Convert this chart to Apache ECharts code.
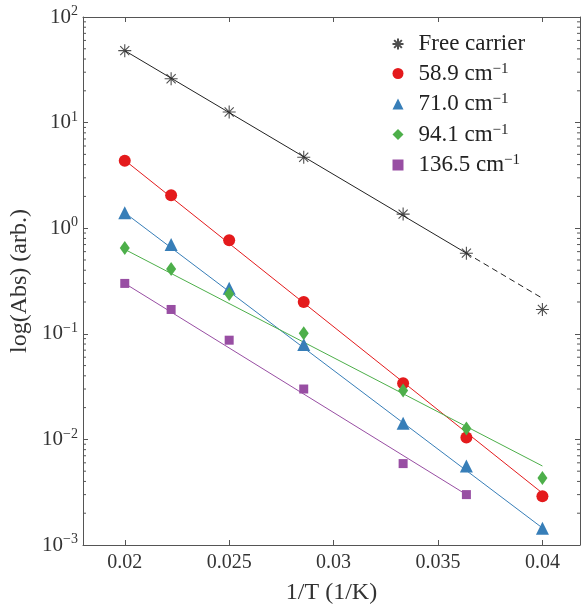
<!DOCTYPE html>
<html>
<head>
<meta charset="utf-8">
<script src="https://cdn.jsdelivr.net/npm/echarts@6/dist/echarts.min.js"></script>
<style>
    html, body { margin: 0; padding: 0; background: #fff; }
    #main { width: 583px; height: 605px; }
</style>
</head>
<body>
<div id="main"></div>
<script>
    // 1/T 的取值
    const invT = [0.02, 0.02222, 0.025, 0.02857, 0.03333, 0.03636, 0.04];

    // 各系列测量点
    const freeCarrier = [48, 26, 12.6, 4.7, 1.36, 0.58, 0.17];
    const mode589 = [4.35, 2.05, 0.77, 0.20, 0.034, 0.0104, 0.0029];
    const mode710 = [1.40, 0.70, 0.27, 0.079, 0.0142, 0.0056, 0.00144];
    const mode941 = [0.65, 0.41, 0.238, 0.101, 0.029, 0.0127, 0.0043];
    const mode1365 = [0.30, 0.17, 0.087, 0.030, 0.0059, 0.0030];

    // 拟合直线的两端 [x, y]
    const fitFree = [[0.02, 48], [0.03636, 0.58]];
    const fitFreeExt = [[0.03636, 0.58], [0.04, 0.217]];
    const fit589 = [[0.02, 4.4], [0.04, 0.0031]];
    const fit710 = [[0.02, 1.4], [0.04, 0.00145]];
    const fit941 = [[0.02, 0.63], [0.04, 0.0056]];
    const fit1365 = [[0.02, 0.30], [0.03636, 0.0030]];

    // 坐标轴
    const xTicks = [0.02, 0.025, 0.03, 0.035, 0.04];
    const yMinorTicks = [];
    [0.001, 0.01, 0.1, 1, 10].forEach(function (d) {
        for (let k = 2; k <= 9; k++) yMinorTicks.push(d * k);
    });

    const names = ['Free carrier', '58.9 cm-1', '71.0 cm-1', '94.1 cm-1', '136.5 cm-1'];
    const colors = ['#222222', '#e41a1c', '#377eb8', '#4daf4a', '#984ea3'];

    const font = 'Liberation Serif';
    const xMin = 0.018, xMax = 0.0418;

    function pts(ys) {
        return ys.map(function (v, i) { return [invT[i], v]; });
    }

    function fitLine(data, color, dashed) {
        return {
            type: 'line', data: data, showSymbol: false, silent: true,
            lineStyle: { color: color, width: 1, type: dashed ? [6, 4] : 'solid' },
            z: 2
        };
    }

    function marks(name, ys, symbol, size, color, style) {
        return {
            name: name, type: 'scatter', data: pts(ys),
            symbol: symbol, symbolSize: size,
            itemStyle: style || { color: color, opacity: 1 },
            z: 3
        };
    }

    let myChart = echarts.init(document.getElementById('main'));

    let option = {
        animation: false,
        backgroundColor: '#fff',
        grid: { left: 83, right: 3, top: 17, bottom: 60, outerBoundsMode: 'none' },
        legend: {
            orient: 'vertical',
            left: 385, top: 27,
            itemWidth: 11, itemHeight: 11, itemGap: 5.5,
            data: names,
            formatter: function (n) {
                return n.replace(' cm-1', ' cm{sup|−1}');
            },
            textStyle: {
                fontFamily: font, fontSize: 23, color: '#222',
                lineHeight: 24, padding: [0, 0, 0, 10],
                rich: {
                    sup: { fontFamily: font, fontSize: 15, color: '#222', verticalAlign: 'top', lineHeight: 24, padding: [0, 0, 10, 0] }
                }
            }
        },
        xAxis: [{
            type: 'value', min: xMin, max: xMax,
            name: '1/T (1/K)', nameLocation: 'middle', nameGap: 36,
            nameTextStyle: { fontFamily: font, fontSize: 24, color: '#333' },
            axisLine: { lineStyle: { color: '#555', width: 1 } },
            axisTick: { inside: true, length: 5, lineStyle: { color: '#555' }, customValues: xTicks },
            axisLabel: { fontFamily: font, fontSize: 20, color: '#333', margin: 8, customValues: xTicks,
                formatter: function (v) { return String(v); } },
            splitLine: { show: false }
        }, {
            type: 'value', position: 'top', min: xMin, max: xMax,
            axisLine: { lineStyle: { color: '#555', width: 1 } },
            axisTick: { inside: true, length: 5, lineStyle: { color: '#555' }, customValues: xTicks },
            axisLabel: { show: false },
            splitLine: { show: false }
        }],
        yAxis: [{
            type: 'log', min: 0.001, max: 100, logBase: 10,
            name: 'log(Abs) (arb.)', nameLocation: 'middle', nameGap: 50,
            nameTextStyle: { fontFamily: font, fontSize: 24, color: '#333' },
            axisLine: { show: true, lineStyle: { color: '#555', width: 1 } },
            axisTick: { inside: true, length: 5, lineStyle: { color: '#555' } },
            axisLabel: {
                fontFamily: font, fontSize: 21, color: '#333', margin: 5,
                formatter: function (v) {
                    let e = Math.round(Math.log10(v));
                    return '10{sup|' + String(e).replace('-', '−') + '}';
                },
                rich: {
                    sup: { fontFamily: font, fontSize: 14, color: '#333', verticalAlign: 'top', padding: [0, 0, 11, 0] }
                }
            },
            splitLine: { show: false }
        }, {
            type: 'log', min: 0.001, max: 100, logBase: 10, position: 'right',
            axisLine: { show: true, lineStyle: { color: '#555', width: 1 } },
            axisTick: { inside: true, length: 5, lineStyle: { color: '#555' } },
            axisLabel: { show: false },
            splitLine: { show: false }
        }],
        series: [
            // 对数轴的次刻度（左右两侧）
            {
                type: 'custom', silent: true, clip: false, z: 1,
                data: yMinorTicks.map(function (v) { return [xMin, v]; }),
                renderItem: function (params, api) {
                    let p = api.coord([xMin, api.value(1)]);
                    let q = api.coord([xMax, api.value(1)]);
                    let st = { stroke: '#555', lineWidth: 1 };
                    return {
                        type: 'group', children: [
                            { type: 'line', shape: { x1: p[0], y1: p[1], x2: p[0] + 3, y2: p[1] }, style: st },
                            { type: 'line', shape: { x1: q[0], y1: q[1], x2: q[0] - 3, y2: q[1] }, style: st }
                        ]
                    };
                }
            },
            fitLine(fitFree, colors[0], false),
            fitLine(fitFreeExt, colors[0], true),
            fitLine(fit589, colors[1], false),
            fitLine(fit710, colors[2], false),
            fitLine(fit941, colors[3], false),
            fitLine(fit1365, colors[4], false),
            marks(names[0], freeCarrier, 'path://M0,-10L0,10M-10,0L10,0M-7,-7L7,7M-7,7L7,-7', 13, colors[0],
                { color: 'none', borderColor: colors[0], borderWidth: 1.1 }),
            marks(names[1], mode589, 'circle', 12, colors[1]),
            marks(names[2], mode710, 'triangle', 13, colors[2]),
            marks(names[3], mode941, 'diamond', [10, 14], colors[3]),
            marks(names[4], mode1365, 'rect', 9, colors[4])
        ]
    };

    myChart.setOption(option);
</script>
</body>
</html>
